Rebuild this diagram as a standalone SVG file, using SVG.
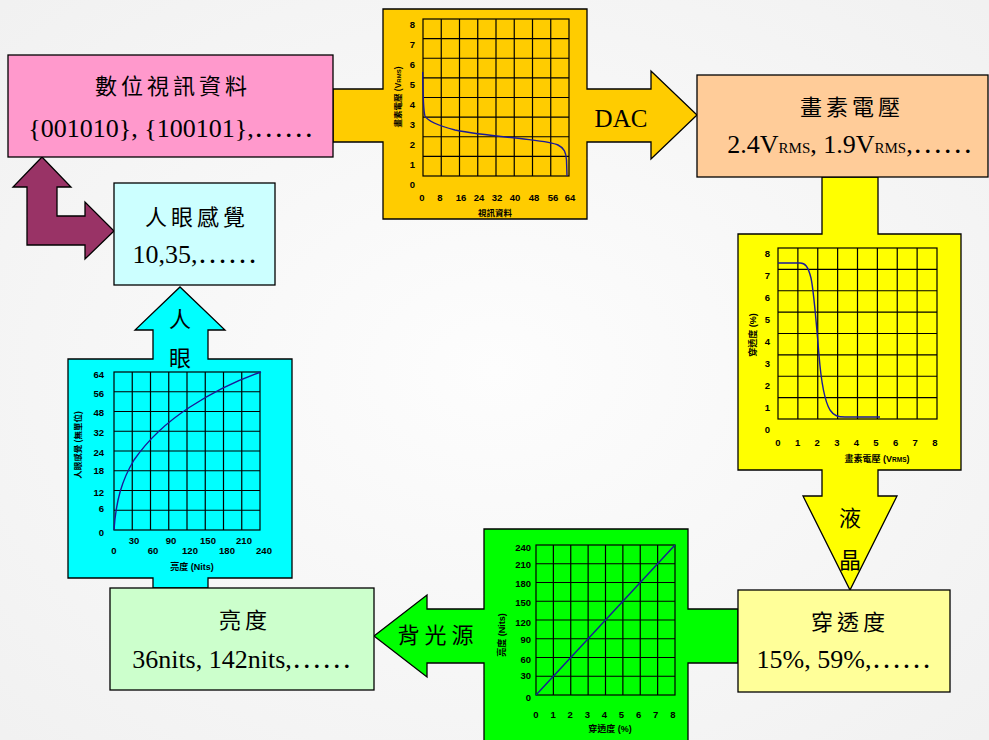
<svg xmlns="http://www.w3.org/2000/svg" width="989" height="740" viewBox="0 0 989 740">
<defs>
<style>
.edge{stroke:#000;stroke-width:1.3;stroke-linejoin:miter}
.big{font-family:"Liberation Serif","Noto Sans CJK TC",serif;font-size:26px;fill:#000;text-anchor:middle}
.cjk{font-family:"Noto Sans CJK TC","Liberation Serif",sans-serif;font-size:22px;fill:#000;text-anchor:middle;letter-spacing:4px}
.ell{font-size:30px}
.sub{font-size:15px}
.ax{font-family:"Liberation Sans",Arial,"Noto Sans CJK TC",sans-serif;font-size:9.5px;font-weight:bold;fill:#000}
.axr{text-anchor:end}
.axm{text-anchor:middle}
.grid{stroke:#000;stroke-width:1.2;fill:none}
.curve{stroke:#1a1a99;stroke-width:1.4;fill:none}
</style>
<radialGradient id="bg" cx="0.5" cy="0.5" r="0.7">
<stop offset="0" stop-color="#fdfdfd"/>
<stop offset="1" stop-color="#f1f1f1"/>
</radialGradient>
</defs>
<rect x="0" y="0" width="989" height="740" fill="url(#bg)"/>

<g id="connectors">
<path class="edge" fill="#ffcc00" d="M333,89 L383,89 L383,9 L587,9 L587,89 L651,89 L651,71 L697,115 L651,159 L651,142 L587,142 L587,219 L383,219 L383,142 L333,142 Z"/>
<path class="edge" fill="#ffff00" d="M822,177 L878,177 L878,234 L961,234 L961,470 L878,470 L878,496 L897,496 L850,590 L803,496 L822,496 L822,470 L738,470 L738,234 L822,234 Z"/>
<path class="edge" fill="#00ff00" d="M738,609 L688,609 L688,529 L484,529 L484,609 L427,609 L427,595 L374,636 L427,677 L427,663 L484,663 L484,748 L688,748 L688,663 L738,663 Z"/>
<path class="edge" fill="#00ffff" d="M153,588 L153,578 L68,578 L68,359 L153,359 L153,330 L135,330 L180,287 L225,330 L208,330 L208,359 L292,359 L292,578 L208,578 L208,588 Z"/>
<path class="edge" fill="#993366" d="M42,157 L71,187 L57,187 L57,216 L85,216 L85,202 L114,231 L85,259 L85,245 L27,245 L27,187 L13,187 Z"/>
<text class="big" x="621" y="127" style="font-size:25px">DAC</text>
<text class="cjk" x="852" y="526">液</text>
<text class="cjk" x="852" y="568">晶</text>
<text class="cjk" x="438" y="643" style="letter-spacing:5px">背光源</text>
<text class="cjk" x="182" y="327">人</text>
<text class="cjk" x="182" y="366">眼</text>
</g>

<g id="chart-dac">
<rect class="grid" x="423" y="19" width="146" height="157"/>
<path class="grid" d="M441.25,19V176M459.5,19V176M477.75,19V176M496,19V176M514.25,19V176M532.5,19V176M550.75,19V176M423,38.625H569M423,58.25H569M423,77.875H569M423,97.5H569M423,117.125H569M423,136.75H569M423,156.375H569"/>
<path class="curve" d="M422.7,72 C423,100 423.5,112 425,116 C428,122 440,126 455,130 C475,134 500,136.5 520,138.5 C540,141 552,142 558,145 C564,148 566,152 566.5,160 L567,176"/>
<g class="ax axr">
<text x="415" y="187.5">0</text><text x="415" y="167.6">1</text><text x="415" y="147.7">2</text><text x="415" y="127.8">3</text><text x="415" y="107.9">4</text><text x="415" y="88">5</text><text x="415" y="68.1">6</text><text x="415" y="48.2">7</text><text x="415" y="28.3">8</text>
</g>
<g class="ax axm">
<text x="422" y="200.5">0</text><text x="440" y="200.5">8</text><text x="461" y="200.5">16</text><text x="479" y="200.5">24</text><text x="497" y="200.5">32</text><text x="515" y="200.5">40</text><text x="534" y="200.5">48</text><text x="553" y="200.5">56</text><text x="570" y="200.5">64</text>
<text x="495" y="215.5" style="font-size:8.5px">視訊資料</text>
<text transform="translate(400.5,97) rotate(-90)" style="font-size:8.5px">畫素電壓 (V<tspan style="font-size:6px">RMS</tspan>)</text>
</g>
</g>

<g id="chart-lc">
<rect class="grid" x="778" y="248" width="159" height="171"/>
<path class="grid" d="M797.875,248V419M817.75,248V419M837.625,248V419M857.5,248V419M877.375,248V419M897.25,248V419M917.125,248V419M778,269.375H937M778,290.75H937M778,312.125H937M778,333.5H937M778,354.875H937M778,376.25H937M778,397.625H937"/>
<path class="curve" d="M778,263 L800,263 C805,263 808,266 811,278 C814,292 816,320 819,355 C821,380 824,400 830,410 C834,416 838,417 845,417 L880,417"/>
<g class="ax axr">
<text x="770" y="432.5">0</text><text x="770" y="410.6">1</text><text x="770" y="388.7">2</text><text x="770" y="366.8">3</text><text x="770" y="344.9">4</text><text x="770" y="323">5</text><text x="770" y="301.1">6</text><text x="770" y="279.2">7</text><text x="770" y="257.3">8</text>
</g>
<g class="ax axm">
<text x="778" y="445.5">0</text><text x="797.6" y="445.5">1</text><text x="817.2" y="445.5">2</text><text x="836.8" y="445.5">3</text><text x="856.4" y="445.5">4</text><text x="876" y="445.5">5</text><text x="895.6" y="445.5">6</text><text x="915.2" y="445.5">7</text><text x="934.8" y="445.5">8</text>
<text x="877" y="461.5" style="font-size:9px">畫素電壓 (V<tspan style="font-size:6.5px">RMS</tspan>)</text>
<text transform="translate(755.5,335) rotate(-90)" style="font-size:9px">穿透度 (%)</text>
</g>
</g>

<g id="chart-bl">
<rect class="grid" x="536" y="545" width="139" height="150"/>
<path class="grid" d="M553.375,545V695M570.75,545V695M588.125,545V695M605.5,545V695M622.875,545V695M640.25,545V695M657.625,545V695M536,563.75H675M536,582.5H675M536,601.25H675M536,620H675M536,638.75H675M536,657.5H675M536,676.25H675"/>
<path class="curve" d="M536,695 L675,545"/>
<g class="ax axr">
<text x="531" y="550.5">240</text><text x="531" y="567.5">210</text><text x="531" y="586.5">180</text><text x="531" y="605.5">150</text><text x="531" y="625.5">120</text><text x="531" y="642.5">90</text><text x="531" y="662.5">60</text><text x="531" y="678.5">30</text><text x="531" y="700.5">0</text>
</g>
<g class="ax axm">
<text x="536" y="717.5">0</text><text x="553.1" y="717.5">1</text><text x="570.2" y="717.5">2</text><text x="587.3" y="717.5">3</text><text x="604.4" y="717.5">4</text><text x="621.5" y="717.5">5</text><text x="638.6" y="717.5">6</text><text x="655.7" y="717.5">7</text><text x="672.8" y="717.5">8</text>
<text x="610" y="731.5" style="font-size:9px">穿透度 (%)</text>
<text transform="translate(504.5,635) rotate(-90)" style="font-size:9px">亮度 (Nits)</text>
</g>
</g>

<g id="chart-eye">
<rect class="grid" x="114" y="372" width="146" height="158"/>
<path class="grid" d="M132.25,372V530M150.5,372V530M168.75,372V530M187,372V530M205.25,372V530M223.5,372V530M241.75,372V530M114,391.75H260M114,411.5H260M114,431.25H260M114,451H260M114,470.75H260M114,490.5H260M114,510.25H260"/>
<path class="curve" d="M114,530 C116,500 122,480 134,460 C150,437 170,420 190,407 C210,394 235,381 261,372"/>
<g class="ax axr">
<text x="104" y="377.5">64</text><text x="104" y="396.5">56</text><text x="104" y="415.5">48</text><text x="104" y="435.5">32</text><text x="104" y="455.5">24</text><text x="104" y="473.5">18</text><text x="104" y="495.5">12</text><text x="104" y="511.5">6</text><text x="104" y="535.5">0</text>
</g>
<g class="ax axm">
<text x="134" y="543.5">30</text><text x="171" y="543.5">90</text><text x="208" y="543.5">150</text><text x="244" y="543.5">210</text>
<text x="114" y="553.5">0</text><text x="153" y="553.5">60</text><text x="190" y="553.5">120</text><text x="227" y="553.5">180</text><text x="264" y="553.5">240</text>
<text x="192" y="569.5" style="font-size:9px">亮度 (Nits)</text>
<text transform="translate(80.5,445) rotate(-90)" style="font-size:8.5px">人眼感覺 (無單位)</text>
</g>
</g>

<g id="node-digital">
<rect class="edge" x="8" y="55" width="325" height="102" fill="#ff99cc"/>
<text class="cjk" x="173" y="94">數位視訊資料</text>
<text class="big" x="171" y="137">{001010}, {100101},<tspan class="ell">……</tspan></text>
</g>

<g id="node-perception">
<rect class="edge" x="114" y="183" width="161" height="102" fill="#ccffff"/>
<text class="cjk" x="197" y="225">人眼感覺</text>
<text class="big" x="195" y="263">10,35,<tspan class="ell">……</tspan></text>
</g>

<g id="node-voltage">
<rect class="edge" x="697" y="75" width="291" height="102" fill="#ffcc99"/>
<text class="cjk" x="852" y="115">畫素電壓</text>
<text class="big" x="850" y="153">2.4V<tspan class="sub">RMS</tspan>, 1.9V<tspan class="sub">RMS</tspan>,<tspan class="ell">……</tspan></text>
</g>

<g id="node-transmittance">
<rect class="edge" x="738" y="590" width="212" height="102" fill="#ffff99"/>
<text class="cjk" x="850" y="630">穿透度</text>
<text class="big" x="844" y="668">15%, 59%,<tspan class="ell">……</tspan></text>
</g>

<g id="node-luminance">
<rect class="edge" x="110" y="588" width="264" height="102" fill="#ccffcc"/>
<text class="cjk" x="245" y="628">亮度</text>
<text class="big" x="242" y="668">36nits, 142nits,<tspan class="ell">……</tspan></text>
</g>
</svg>
